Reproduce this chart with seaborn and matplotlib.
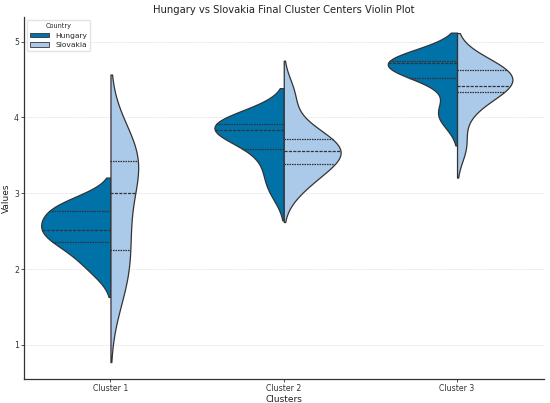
import pandas as pd
import matplotlib
matplotlib.use("Agg")
import matplotlib.pyplot as plt
from matplotlib.patches import Patch
import seaborn as sns

clusters = ["Cluster 1", "Cluster 2", "Cluster 3"]
countries = ["Hungary", "Slovakia"]

# final cluster centre values (10 per cluster and country)
hungary_c1 = [1.99, 2.20, 2.33, 2.45, 2.50, 2.54, 2.64, 2.80, 2.83, 2.85]
slovakia_c1 = [1.68, 1.98, 2.15, 2.55, 2.75, 3.25, 3.36, 3.44, 3.56, 3.66]
hungary_c2 = [3.04, 3.30, 3.55, 3.71, 3.80, 3.86, 3.89, 3.917, 3.96, 3.99]
slovakia_c2 = [3.06, 3.26, 3.34, 3.50, 3.53, 3.59, 3.60, 3.75, 3.88, 4.31]
hungary_c3 = [3.99, 4.10, 4.50, 4.58, 4.70, 4.73, 4.735, 4.742, 4.75, 4.76]
slovakia_c3 = [3.62, 4.07, 4.31, 4.39, 4.40, 4.44, 4.56, 4.64, 4.66, 4.70]

colors = {"Hungary": "#0072a8", "Slovakia": "#abc9e8"}

rows = []
for cl, hu, sk in zip(clusters,
                      [hungary_c1, hungary_c2, hungary_c3],
                      [slovakia_c1, slovakia_c2, slovakia_c3]):
    rows += [(cl, "Hungary", v) for v in hu]
    rows += [(cl, "Slovakia", v) for v in sk]
df = pd.DataFrame(rows, columns=["Cluster", "Country", "Value"])

sns.set_style("ticks")
plt.rcParams["font.family"] = ["DejaVu Sans"]

fig = plt.figure(figsize=(5.5, 4.03), dpi=100)
ax = fig.add_axes([0.0433, 0.0596, 0.9452, 0.8984])

# one call per cluster so the two halves are scaled against each other
for cl in clusters:
    sns.violinplot(data=df[df["Cluster"] == cl], x="Cluster", y="Value",
                   hue="Country", order=clusters, hue_order=countries,
                   palette=colors, split=True, inner="quart",
                   common_norm=True, saturation=1, linewidth=0.9,
                   linecolor="#333333", legend=False, ax=ax)

ax.set_xlim(-0.5, 2.5)
ax.set_ylim(0.551, 5.326)
ax.set_yticks([1, 2, 3, 4, 5])
ax.yaxis.grid(True, color="#dcdcdc", linestyle=(0, (1, 1)), linewidth=0.6)
ax.set_axisbelow(True)
sns.despine(ax=ax)
for s in ["left", "bottom"]:
    ax.spines[s].set_color("#333333")
    ax.spines[s].set_linewidth(0.9)
ax.tick_params(labelsize=5.6, length=2, width=0.6, pad=1.5, colors="#333333")

ax.set_title("Hungary vs Slovakia Final Cluster Centers Violin Plot",
             fontsize=7.2, pad=3, color="#222222")
ax.set_xlabel("Clusters", fontsize=6.5, labelpad=1.5, color="#222222")
ax.set_ylabel("Values", fontsize=6.5, labelpad=2, color="#222222")

handles = [Patch(facecolor=colors[c], edgecolor="#333333", linewidth=0.6, label=c)
           for c in countries]
ax.legend(handles=handles, title="Country", loc="upper left", fontsize=5.4,
          title_fontsize=4.7, borderaxespad=0.4, frameon=True,
          edgecolor="#dddddd", handlelength=2.6, handleheight=0.6)

fig.savefig("out.png", dpi=100)
